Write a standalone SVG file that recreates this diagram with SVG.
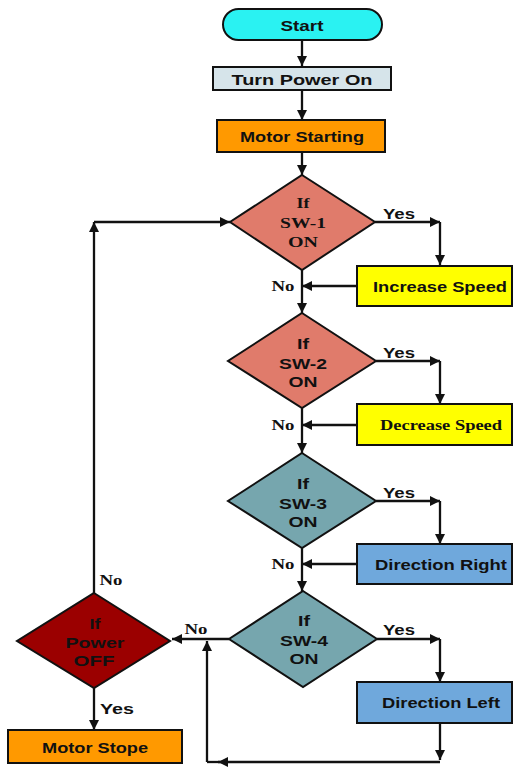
<svg xmlns="http://www.w3.org/2000/svg" width="515" height="767" viewBox="0 0 515 767">
<style>
.box{stroke:#111;stroke-width:2}
.t{font-family:"Liberation Sans",Arial,sans-serif;font-weight:bold;font-size:15px;fill:#111;text-anchor:middle;dominant-baseline:central}
.s{font-family:"Liberation Serif","Times New Roman",serif;font-weight:bold;font-size:15px;fill:#111;text-anchor:middle;dominant-baseline:central}
.c{fill:none;stroke:#111;stroke-width:2.3}
</style>
<defs>
<marker id="ah" viewBox="0 0 10 10" refX="10" refY="5" markerWidth="12" markerHeight="10" markerUnits="userSpaceOnUse" orient="auto">
<path d="M0,0 L10,5 L0,10 z" fill="#111"/>
</marker>
</defs>
<g id="connectors">
<path class="c" d="M302,40 V66" marker-end="url(#ah)"/>
<path class="c" d="M302,90 V120" marker-end="url(#ah)"/>
<path class="c" d="M302,152 V175" marker-end="url(#ah)"/>
<path class="c" d="M375,222 H440" marker-end="url(#ah)"/>
<path class="c" d="M440,222 V265" marker-end="url(#ah)"/>
<path class="c" d="M357,286 H302" marker-end="url(#ah)"/>
<path class="c" d="M302,270 V313" marker-end="url(#ah)"/>
<path class="c" d="M376,361 H440" marker-end="url(#ah)"/>
<path class="c" d="M440,361 V404" marker-end="url(#ah)"/>
<path class="c" d="M357,425 H302" marker-end="url(#ah)"/>
<path class="c" d="M302,408 V453" marker-end="url(#ah)"/>
<path class="c" d="M376,501 H440" marker-end="url(#ah)"/>
<path class="c" d="M440,501 V544" marker-end="url(#ah)"/>
<path class="c" d="M357,564 H302" marker-end="url(#ah)"/>
<path class="c" d="M302,548 V591" marker-end="url(#ah)"/>
<path class="c" d="M377,639 H440" marker-end="url(#ah)"/>
<path class="c" d="M440,639 V682" marker-end="url(#ah)"/>
<path class="c" d="M229,639 H172" marker-end="url(#ah)"/>
<path class="c" d="M440,723 V760" marker-end="url(#ah)"/>
<path class="c" d="M440,762 H218" marker-end="url(#ah)"/>
<path class="c" d="M207,762 V641" marker-end="url(#ah)"/>
<path class="c" d="M207,762 H220"/>
<path class="c" d="M94,593 V222" marker-end="url(#ah)"/>
<path class="c" d="M94,222 H230" marker-end="url(#ah)"/>
<path class="c" d="M94,688 V730" marker-end="url(#ah)"/>
<text class="t" x="399" y="213" textLength="32" lengthAdjust="spacingAndGlyphs">Yes</text>
<text class="t" x="399" y="352" textLength="32" lengthAdjust="spacingAndGlyphs">Yes</text>
<text class="t" x="399" y="492" textLength="32" lengthAdjust="spacingAndGlyphs">Yes</text>
<text class="t" x="399" y="629" textLength="32" lengthAdjust="spacingAndGlyphs">Yes</text>
<text class="t" x="117" y="708" textLength="34" lengthAdjust="spacingAndGlyphs">Yes</text>
<text class="s" x="283" y="286" textLength="23" lengthAdjust="spacingAndGlyphs">No</text>
<text class="s" x="283" y="425" textLength="23" lengthAdjust="spacingAndGlyphs">No</text>
<text class="s" x="283" y="564" textLength="23" lengthAdjust="spacingAndGlyphs">No</text>
<text class="s" x="196" y="629" textLength="23" lengthAdjust="spacingAndGlyphs">No</text>
<text class="s" x="111" y="580" textLength="23" lengthAdjust="spacingAndGlyphs">No</text>
</g>
<g id="start">
<rect class="box" x="223" y="9" width="159" height="31" rx="15.5" fill="#2AF2F2"/>
<text class="t" x="302" y="25" font-size="16" textLength="43" lengthAdjust="spacingAndGlyphs">Start</text>
</g>
<g id="power-on">
<rect class="box" x="213" y="67" width="178" height="23" fill="#D6E4EA"/>
<text class="t" x="302" y="79" textLength="141" lengthAdjust="spacingAndGlyphs">Turn Power On</text>
</g>
<g id="motor-starting">
<rect class="box" x="217" y="120" width="168" height="32" fill="#FF9900"/>
<text class="t" x="302" y="136" textLength="124" lengthAdjust="spacingAndGlyphs">Motor Starting</text>
</g>
<g id="sw1">
<polygon class="box" points="302,175 375,222 302,270 230,222" fill="#E07B6B"/>
<text class="s" x="303" y="203" font-size="16" textLength="13" lengthAdjust="spacingAndGlyphs">If</text>
<text class="s" x="303" y="223" font-size="16" textLength="46" lengthAdjust="spacingAndGlyphs">SW-1</text>
<text class="s" x="303" y="242" font-size="16" textLength="30" lengthAdjust="spacingAndGlyphs">ON</text>
</g>
<g id="increase">
<rect class="box" x="357" y="266" width="155" height="40" fill="#FFFF00"/>
<text class="t" x="440" y="286" textLength="134" lengthAdjust="spacingAndGlyphs">Increase Speed</text>
</g>
<g id="sw2">
<polygon class="box" points="302,313 376,361 302,408 228,361" fill="#E07B6B"/>
<text class="t" x="303" y="343" textLength="12" lengthAdjust="spacingAndGlyphs">If</text>
<text class="t" x="303" y="363" textLength="48" lengthAdjust="spacingAndGlyphs">SW-2</text>
<text class="t" x="303" y="381" textLength="29" lengthAdjust="spacingAndGlyphs">ON</text>
</g>
<g id="decrease">
<rect class="box" x="357" y="404" width="155" height="41" fill="#FFFF00"/>
<text class="s" x="441" y="425" textLength="122" lengthAdjust="spacingAndGlyphs">Decrease Speed</text>
</g>
<g id="sw3">
<polygon class="box" points="302,453 376,501 302,548 228,501" fill="#76A6AE"/>
<text class="t" x="303" y="483" textLength="12" lengthAdjust="spacingAndGlyphs">If</text>
<text class="t" x="303" y="503" textLength="48" lengthAdjust="spacingAndGlyphs">SW-3</text>
<text class="t" x="303" y="521" textLength="29" lengthAdjust="spacingAndGlyphs">ON</text>
</g>
<g id="dir-right">
<rect class="box" x="357" y="544" width="155" height="40" fill="#6FA8DC"/>
<text class="t" x="441" y="564" textLength="132" lengthAdjust="spacingAndGlyphs">Direction Right</text>
</g>
<g id="sw4">
<polygon class="box" points="303,591 377,639 303,687 229,639" fill="#76A6AE"/>
<text class="t" x="304" y="620" textLength="12" lengthAdjust="spacingAndGlyphs">If</text>
<text class="t" x="304" y="640" textLength="48" lengthAdjust="spacingAndGlyphs">SW-4</text>
<text class="t" x="304" y="658" textLength="29" lengthAdjust="spacingAndGlyphs">ON</text>
</g>
<g id="dir-left">
<rect class="box" x="357" y="682" width="155" height="41" fill="#6FA8DC"/>
<text class="t" x="441" y="702" textLength="118" lengthAdjust="spacingAndGlyphs">Direction Left</text>
</g>
<g id="power-off">
<polygon class="box" points="94,593 170,641 94,688 17,641" fill="#9B0000"/>
<text class="t" x="95" y="623" textLength="11" lengthAdjust="spacingAndGlyphs">If</text>
<text class="t" x="95" y="642" textLength="59" lengthAdjust="spacingAndGlyphs">Power</text>
<text class="t" x="94" y="660" textLength="41" lengthAdjust="spacingAndGlyphs">OFF</text>
</g>
<g id="motor-stope">
<rect class="box" x="8" y="730" width="174" height="33" fill="#FF9900"/>
<text class="t" x="95" y="747" textLength="106" lengthAdjust="spacingAndGlyphs">Motor Stope</text>
</g>
</svg>
